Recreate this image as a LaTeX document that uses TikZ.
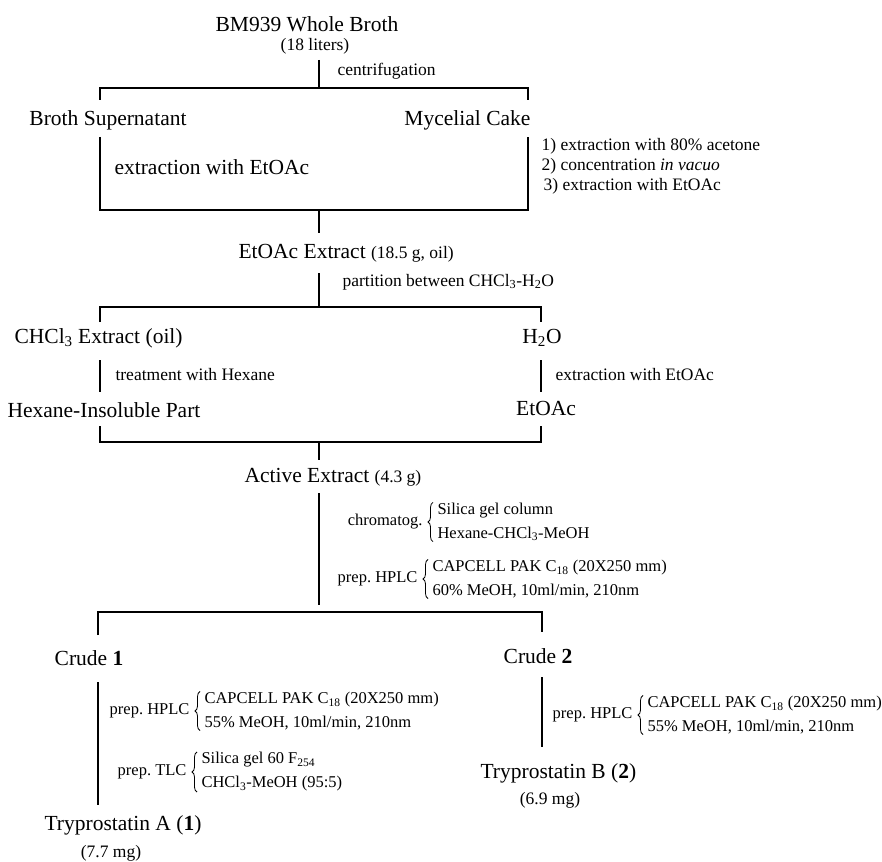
\documentclass[tikz,border=0pt]{standalone}
\usepackage{fontspec}
\setmainfont{Liberation Serif}
\usetikzlibrary{positioning, decorations.pathreplacing}
\frenchspacing
\newcommand{\mainsz}{\fontsize{21.5}{25}\selectfont}
\newcommand{\notesz}{\fontsize{17.5}{24}\selectfont}
\newcommand{\condsz}{\fontsize{16.5}{24}\selectfont}

\begin{document}
\begin{tikzpicture}[x=1pt, y=-1pt, line width=1.1pt,
    stage/.style={inner sep=0pt, font=\mainsz},
    note/.style={inner sep=0pt, font=\notesz},
    cond/.style={inner sep=0pt, font=\condsz, align=left},
    curly/.style={decorate, decoration={brace, amplitude=5pt}, line width=0.8pt}]
  \useasboundingbox (0,0) rectangle (882,861);
  % substances
  \node (broth)  [stage] at (307,24)  {BM939 Whole Broth};
  \node (liters) [note]  at (315,46)  {(18 liters)};
  \node (super)  [stage] at (108,120) {Broth Supernatant};
  \node (cake)   [stage, anchor=east] at (531,120) {Mycelial Cake};
  \node (ext)    [stage, anchor=west] at (238,253) {EtOAc Extract {\notesz (18.5 g, oil)}};
  \node (chcl)   [stage, anchor=west] at (14,338)  {CHCl\textsubscript{3} Extract (oil)};
  \node (water)  [stage] at (542,338) {H\textsubscript{2}O};
  \node (insol)  [stage, anchor=west] at (7,410)   {Hexane-Insoluble Part};
  \node (etoac)  [stage] at (546,408) {EtOAc};
  \node (active) [stage, anchor=west] at (244,477) {Active Extract {\notesz (4.3 g)}};
  \node (crudeA) [stage] at (89,658)  {Crude \textbf{1}};
  \node (crudeB) [stage] at (538,656) {Crude \textbf{2}};
  \node (tryB)   [stage, anchor=west] at (480,773) {Tryprostatin B (\textbf{2})};
  \node (mgB)    [note]  at (550,800) {(6.9 mg)};
  \node (tryA)   [stage] at (123,825) {Tryprostatin A (\textbf{1})};
  \node (mgA)    [note]  at (111,853) {(7.7 mg)};
  % treatments
  \node (centr)  [note, anchor=west] at (337,71)  {centrifugation};
  \node (extA)   [stage, anchor=west] at (114,167) {extraction with EtOAc};
  \node (stepA)  [note, anchor=west] at (541,146) {1) extraction with 80\% acetone};
  \node (stepB)  [note, anchor=west] at (541,166) {2) concentration \textit{in vacuo}};
  \node (stepC)  [note, anchor=west] at (543,186) {3) extraction with EtOAc};
  \node (part)   [note, anchor=west] at (342,282) {partition between CHCl\textsubscript{3}-H\textsubscript{2}O};
  \node (hexan)  [note, anchor=west] at (115,375) {treatment with Hexane};
  \node (extB)   [note, anchor=west] at (555,375) {extraction with EtOAc};
  \node (silica) [cond, anchor=west] at (437,522)
    {Silica gel column\\Hexane-CHCl\textsubscript{3}-MeOH};
  \node (chrom)  [cond, left=14pt of silica] {chromatog.};
  \node (capA)   [cond, anchor=west] at (432,579)
    {CAPCELL PAK C\textsubscript{18} (20X250 mm)\\60\% MeOH, 10ml/min, 210nm};
  \node (hplcA)  [cond, left=14pt of capA] {prep. HPLC};
  \node (capB)   [cond, anchor=west] at (204,711)
    {CAPCELL PAK C\textsubscript{18} (20X250 mm)\\55\% MeOH, 10ml/min, 210nm};
  \node (hplcB)  [cond, left=14pt of capB] {prep. HPLC};
  \node (tlc)    [cond, anchor=west] at (201,772)
    {Silica gel 60 F\textsubscript{254}\\CHCl\textsubscript{3}-MeOH (95:5)};
  \node (tlcl)   [cond, left=14pt of tlc] {prep. TLC};
  \node (capC)   [cond, anchor=west] at (647,715)
    {CAPCELL PAK C\textsubscript{18} (20X250 mm)\\55\% MeOH, 10ml/min, 210nm};
  \node (hplcC)  [cond, left=14pt of capC] {prep. HPLC};
  \draw [curly] ([xshift=-4pt]silica.south west) -- ([xshift=-4pt]silica.north west);
  \draw [curly] ([xshift=-4pt]capA.south west) -- ([xshift=-4pt]capA.north west);
  \draw [curly] ([xshift=-4pt]capB.south west) -- ([xshift=-4pt]capB.north west);
  \draw [curly] ([xshift=-4pt]tlc.south west) -- ([xshift=-4pt]tlc.north west);
  \draw [curly] ([xshift=-4pt]capC.south west) -- ([xshift=-4pt]capC.north west);
  % junction points
  \coordinate (cenA) at (319,60);   \coordinate (cenB) at (319,88);
  \coordinate (barAl) at (100,88);  \coordinate (barAr) at (528,88);
  \coordinate (tickAl) at (100,100); \coordinate (tickAr) at (528,100);
  \coordinate (boxTl) at (100,137); \coordinate (boxBl) at (100,210);
  \coordinate (boxTr) at (528,137); \coordinate (boxBr) at (528,210);
  \coordinate (cenC) at (319,210);  \coordinate (cenD) at (319,233);
  \coordinate (cenE) at (319,273);  \coordinate (cenF) at (319,307);
  \coordinate (barBl) at (100,307); \coordinate (barBr) at (541,307);
  \coordinate (tickBl) at (100,322); \coordinate (tickBr) at (541,322);
  \coordinate (hexT) at (100,360);  \coordinate (hexB) at (100,392);
  \coordinate (watT) at (541,360);  \coordinate (watB) at (541,392);
  \coordinate (tickCl) at (100,426); \coordinate (tickCr) at (541,426);
  \coordinate (barCl) at (100,442); \coordinate (barCr) at (541,442);
  \coordinate (cenG) at (319,442);  \coordinate (cenH) at (319,460);
  \coordinate (cenI) at (319,493);  \coordinate (cenJ) at (319,605);
  \coordinate (barDl) at (98,612);  \coordinate (barDr) at (542,612);
  \coordinate (tickDl) at (98,635); \coordinate (tickDr) at (542,632);
  \coordinate (leftT) at (98,682);  \coordinate (leftB) at (98,805);
  \coordinate (rightT) at (542,677); \coordinate (rightB) at (542,747);
  % connectors
  \draw (cenA) -- (cenB);
  \draw (tickAl) -- (barAl) -- (barAr) -- (tickAr);
  \draw (boxTl) -- (boxBl) -- (boxBr) -- (boxTr);
  \draw (cenC) -- (cenD);
  \draw (cenE) -- (cenF);
  \draw (tickBl) -- (barBl) -- (barBr) -- (tickBr);
  \draw (hexT) -- (hexB);
  \draw (watT) -- (watB);
  \draw (tickCl) -- (barCl) -- (barCr) -- (tickCr);
  \draw (cenG) -- (cenH);
  \draw (cenI) -- (cenJ);
  \draw (tickDl) -- (barDl) -- (barDr) -- (tickDr);
  \draw (leftT) -- (leftB);
  \draw (rightT) -- (rightB);
\end{tikzpicture}
\end{document}
